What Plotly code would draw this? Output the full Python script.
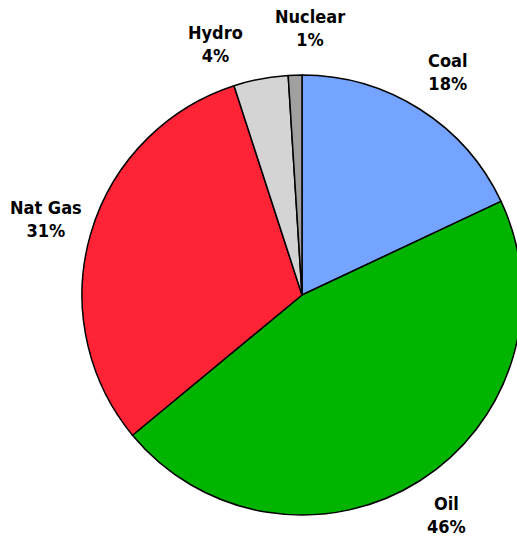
import plotly.graph_objects as go

# Data
labels = ["Coal", "Oil", "Nat Gas", "Hydro", "Nuclear"]
values = [18, 46, 31, 4, 1]
colors = ["#74A4FF", "#00B400", "#FF2435", "#D4D4D4", "#A0A0A0"]

# label placement (pixel centres in the 530x543 layout)
label_px = [(447, 72), (446, 515), (46, 219), (215, 44), (310, 28)]

W, H = 530, 543
cx, cy, R = 302, 295, 220

fig = go.Figure(go.Pie(
    labels=labels,
    values=values,
    sort=False,
    direction="clockwise",
    rotation=0,
    marker=dict(colors=colors, line=dict(color="black", width=1.5)),
    textinfo="none",
    hoverinfo="label+percent",
    showlegend=False,
    domain=dict(x=[(cx - R) / W, (cx + R) / W], y=[1 - (cy + R) / H, 1 - (cy - R) / H]),
))

for lab, v, (px, py) in zip(labels, values, label_px):
    fig.add_annotation(
        x=px / W, y=1 - py / H, xref="paper", yref="paper",
        text=f"<b>{lab}<br>{v}%</b>", showarrow=False,
        xanchor="center", yanchor="middle", align="center",
        font=dict(family="DejaVu Sans Condensed, DejaVu Sans", size=18, color="black"),
    )

fig.update_layout(
    width=W, height=H,
    margin=dict(l=0, r=0, t=0, b=0),
    paper_bgcolor="white", plot_bgcolor="white",
)

fig.write_html("out.html", config={"displayModeBar": False},
               post_script="document.body.style.margin='0';document.body.style.overflow='hidden';")
